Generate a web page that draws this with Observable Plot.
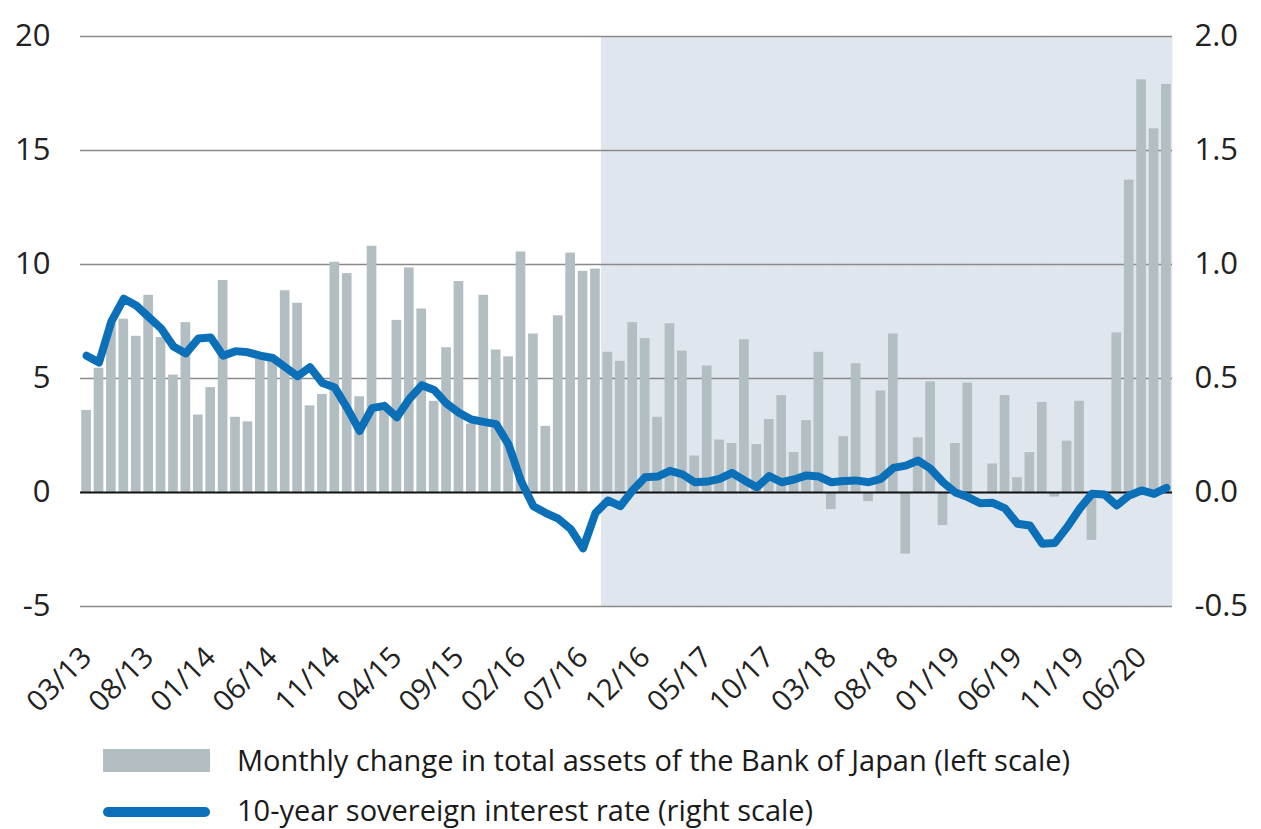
<!DOCTYPE html>
<html><head><meta charset="utf-8">
<script src="https://cdn.jsdelivr.net/npm/d3@7"></script>
<script src="https://cdn.jsdelivr.net/npm/@observablehq/plot@0.6"></script>
<style>
body{margin:0;background:#fff;font-family:"Open Sans",sans-serif;}
#wrap{position:relative;width:1261px;height:829px;overflow:hidden;}
#chart svg{display:block;}
.leg{position:absolute;left:237px;font-size:29px;color:#1a1a1a;line-height:1;white-space:nowrap;}
.sw{position:absolute;left:103px;width:107px;}
</style></head><body><div id="wrap"><div id="chart"></div>
<div class="sw" style="top:749px;height:23px;background:#b3bec3;"></div>
<div class="leg" id="l1" style="top:745px;"></div>
<div class="sw" style="top:807px;height:10px;border-radius:5px;background:#0b70b8;"></div>
<div class="leg" id="l2" style="top:795px;"></div>
</div>
<script>
// Monthly change in total assets of the Bank of Japan (left scale), 03/13 .. 06/20
const assetChange = [
 3.6, 5.45, 7.4, 7.6, 6.85, 8.65, 6.8, 5.15, 7.45, 3.4,
 4.6, 9.3, 3.3, 3.1, 5.9, 5.8, 8.85, 8.3, 3.8, 4.3,
 10.1, 9.6, 4.2, 10.8, 3.6, 7.55, 9.85, 8.05, 4.0, 6.35,
 9.25, 3.0, 8.65, 6.25, 5.95, 10.55, 6.95, 2.9, 7.75, 10.5,
 9.7, 9.8, 6.15, 5.75, 7.45, 6.75, 3.3, 7.4, 6.2, 1.6,
 5.55, 2.3, 2.15, 6.7, 2.1, 3.2, 4.25, 1.75, 3.15, 6.15,
 -0.75, 2.45, 5.65, -0.4, 4.45, 6.95, -2.7, 2.4, 4.85, -1.45,
 2.15, 4.8, 0, 1.25, 4.25, 0.65, 1.75, 3.95, -0.2, 2.25,
 4.0, -2.1, 0, 7.0, 13.7, 18.1, 15.95, 17.9
];
// 10-year sovereign interest rate (right scale)
const rate10y = [
 0.60, 0.57, 0.75, 0.85, 0.82, 0.77, 0.72, 0.64, 0.61, 0.675,
 0.68, 0.60, 0.62, 0.615, 0.60, 0.59, 0.55, 0.51, 0.55, 0.48,
 0.46, 0.37, 0.27, 0.37, 0.38, 0.33, 0.41, 0.47, 0.45, 0.39,
 0.35, 0.32, 0.31, 0.30, 0.21, 0.05, -0.06, -0.09, -0.115, -0.16,
 -0.245, -0.09, -0.035, -0.06, 0.01, 0.067, 0.07, 0.095, 0.08, 0.045,
 0.048, 0.06, 0.086, 0.053, 0.023, 0.072, 0.045, 0.057, 0.075, 0.07,
 0.045, 0.05, 0.053, 0.045, 0.06, 0.108, 0.118, 0.14, 0.104, 0.045,
 0.0, -0.02, -0.047, -0.045, -0.07, -0.137, -0.145, -0.225, -0.222, -0.152,
 -0.072, -0.006, -0.009, -0.057, -0.013, 0.009, -0.006, 0.02
];
const tickIndex = [0,5,10,15,20,25,30,35,40,45,50,55,60,65,70,75,80,85];
const tickLabels = ["03/13","08/13","01/14","06/14","11/14","04/15","09/15","02/16","07/16","12/16","05/17","10/17","03/18","08/18","01/19","06/19","11/19","06/20"];
const leftTicks = [-5,0,5,10,15,20];
const rightTickLabels = ["-0.5","0.0","0.5","1.0","1.5","2.0"];
const shadeStart = 42; // from 09/16 onwards
const legendLabels = ["Monthly change in total assets of the Bank of Japan (left scale)","10-year sovereign interest rate (right scale)"];

const data = assetChange.map((v,i)=>({i, v, r: rate10y[i]}));
const chart = Plot.plot({
  width:1261, height:725,
  marginLeft:80, marginRight:89, marginTop:36, marginBottom:119,
  style:{fontFamily:"'Open Sans', sans-serif", color:"#222", background:"transparent"},
  x:{type:"band", domain:d3.range(assetChange.length), paddingInner:0.22, paddingOuter:0.1, axis:null},
  y:{domain:[-5,20], axis:null},
  marks:[
    Plot.barY(data.filter(d=>d.i>=shadeStart), {x:"i", y1:-5, y2:20, fill:"#dfe6ee", insetLeft:-1.6, insetRight:-1.6}),
    Plot.ruleY([-5,5,10,15,20], {stroke:"#8a8a8a", strokeWidth:1.6}),
    Plot.barY(data, {x:"i", y:"v", fill:"#b3bec3"}),
    Plot.ruleY([0], {stroke:"#111", strokeWidth:2}),
    Plot.line(data, {x:"i", y:d=>d.r*10, stroke:"#0b70b8", strokeWidth:8, strokeLinejoin:"round", strokeLinecap:"round"}),
    Plot.axisY(leftTicks, {anchor:"left", label:null, tickSize:0, tickPadding:30, fontSize:31, tickFormat:d=>String(d)}),
    Plot.axisY(leftTicks, {anchor:"right", label:null, tickSize:0, tickPadding:22, fontSize:31, tickFormat:d=>rightTickLabels[leftTicks.indexOf(d)]}),
    Plot.axisX(tickIndex, {anchor:"bottom", label:null, tickSize:0, tickPadding:46, tickRotate:-45, fontSize:29, tickFormat:d=>tickLabels[tickIndex.indexOf(d)]})
  ]
});
document.getElementById("chart").appendChild(chart);
document.getElementById("l1").textContent = legendLabels[0];
document.getElementById("l2").textContent = legendLabels[1];
</script></body></html>
